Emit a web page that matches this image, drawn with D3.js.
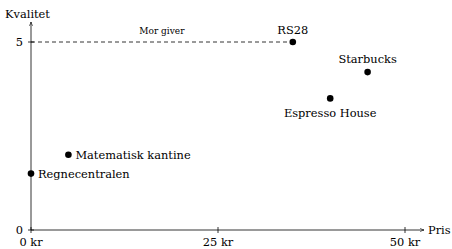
<!DOCTYPE html>
<html>
<head>
<meta charset="utf-8">
<script src="https://cdn.jsdelivr.net/npm/d3@7"></script>
<style>
  body { margin: 0; background: #fff; }
  text { font-family: "DejaVu Serif", "Liberation Serif", serif; fill: #000; }
</style>
</head>
<body>
<div id="chart"></div>
<script>
// data
var names = ["RS28", "Starbucks", "Espresso House", "Matematisk kantine", "Regnecentralen"];
var prices = [35, 45, 40, 5, 0];
var quality = [5, 4.2, 3.5, 2, 1.5];
var xTicks = [0, 25, 50];
var yTicks = [0, 5];
var motherPrice = 35, motherQuality = 5;

var svgWidth = 452, svgHeight = 249;
var fs = 11.4;

var svg = d3.select("#chart").append("svg")
  .attr("width", svgWidth)
  .attr("height", svgHeight);

var x = d3.scaleLinear().domain([0, 50]).range([31, 405]);
var y = d3.scaleLinear().domain([0, 5]).range([230, 42]);

// arrow marker
svg.append("defs").append("marker")
  .attr("id", "arr")
  .attr("viewBox", "0 0 10 10")
  .attr("refX", 9).attr("refY", 5)
  .attr("markerWidth", 6).attr("markerHeight", 6)
  .attr("orient", "auto")
  .append("path")
  .attr("d", "M1,1.5 Q5,4 9,5 Q5,6 1,8.5")
  .attr("fill", "none")
  .attr("stroke", "#000")
  .attr("stroke-width", 1.2);

// axes lines
svg.append("line")
  .attr("x1", x(0)).attr("x2", 424)
  .attr("y1", y(0)).attr("y2", y(0))
  .attr("stroke", "#000").attr("stroke-width", 0.8)
  .attr("marker-end", "url(#arr)");
svg.append("line")
  .attr("x1", x(0)).attr("x2", x(0))
  .attr("y1", y(0)).attr("y2", 22)
  .attr("stroke", "#000").attr("stroke-width", 0.8)
  .attr("marker-end", "url(#arr)");

// x ticks
svg.selectAll(".xt").data(xTicks).enter().append("line")
  .attr("x1", d => x(d)).attr("x2", d => x(d))
  .attr("y1", y(0) - 3).attr("y2", y(0) + 3)
  .attr("stroke", "#000").attr("stroke-width", 0.8);
svg.selectAll(".xl").data(xTicks).enter().append("text")
  .attr("x", d => x(d)).attr("y", 246)
  .attr("text-anchor", "middle")
  .attr("font-size", fs)
  .text(d => d + " kr");

// y ticks
svg.selectAll(".yt").data(yTicks).enter().append("line")
  .attr("x1", x(0) - 3).attr("x2", x(0) + 3)
  .attr("y1", d => y(d)).attr("y2", d => y(d))
  .attr("stroke", "#000").attr("stroke-width", 0.8);
svg.selectAll(".yl").data(yTicks).enter().append("text")
  .attr("x", 23).attr("y", d => y(d) + 4)
  .attr("text-anchor", "end")
  .attr("font-size", fs)
  .text(d => d);

// axis labels
svg.append("text").attr("x", 5).attr("y", 18)
  .attr("font-size", fs).text("Kvalitet");
svg.append("text").attr("x", 428).attr("y", 234)
  .attr("font-size", fs).text("Pris");

// dashed line (mother pays)
svg.append("line")
  .attr("x1", x(0)).attr("x2", x(motherPrice))
  .attr("y1", y(motherQuality)).attr("y2", y(motherQuality))
  .attr("stroke", "#000").attr("stroke-width", 0.8)
  .attr("stroke-dasharray", "4,3");
svg.append("text")
  .attr("x", (x(0) + x(motherPrice)) / 2).attr("y", y(motherQuality) - 8)
  .attr("text-anchor", "middle")
  .attr("font-size", 9)
  .text("Mor giver");

// points
var pts = names.map((n, i) => ({ name: n, p: prices[i], q: quality[i] }));
svg.selectAll("circle").data(pts).enter().append("circle")
  .attr("cx", d => x(d.p)).attr("cy", d => y(d.q))
  .attr("r", 3.3).attr("fill", "#000");

// labels: position relative to point
var pos = {
  "RS28": { dx: 0, dy: -8, a: "middle" },
  "Starbucks": { dx: 0, dy: -9, a: "middle" },
  "Espresso House": { dx: 0, dy: 19, a: "middle" },
  "Matematisk kantine": { dx: 7, dy: 4, a: "start" },
  "Regnecentralen": { dx: 7, dy: 4, a: "start" }
};
svg.selectAll(".lbl").data(pts).enter().append("text")
  .attr("x", d => x(d.p) + pos[d.name].dx)
  .attr("y", d => y(d.q) + pos[d.name].dy)
  .attr("text-anchor", d => pos[d.name].a)
  .attr("font-size", fs)
  .text(d => d.name);
</script>
</body>
</html>
